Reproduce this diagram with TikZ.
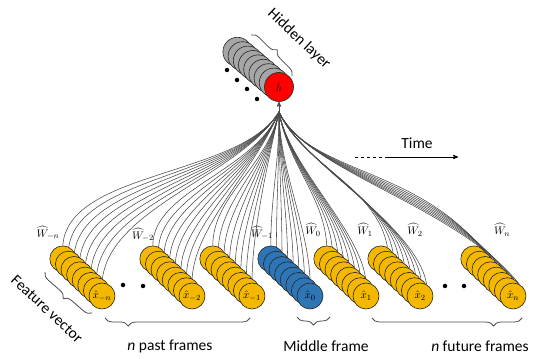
\documentclass[tikz,border=0pt]{standalone}
\usepackage{amsmath,amssymb}
\usepackage{fontspec}
\setmainfont{Carlito}
\usepackage{tikz}
\usetikzlibrary{backgrounds}
\usetikzlibrary{arrows, positioning, decorations.pathreplacing}
\definecolor{featyellow}{HTML}{F5B800}
\definecolor{midblue}{HTML}{2E75B6}
\definecolor{hidgray}{HTML}{A6A6A6}
\definecolor{wiregray}{HTML}{4A4A4A}
\tikzset{>=stealth',
    unit/.style={circle,draw=black!85,line width=0.6pt,minimum size=26pt,inner sep=0pt,
        font=\fontsize{11}{12}\selectfont},
    feat/.style={unit,fill=featyellow},
    middle/.style={unit,fill=midblue},
    hidden/.style={circle,draw=black!85,line width=0.6pt,fill=hidgray,minimum size=29pt,inner sep=0pt},
    outnode/.style={hidden,fill=red},
    dot/.style={circle,fill=black,minimum size=4.5pt,inner sep=0pt},
    wire/.style={draw=wiregray,line width=0.55pt},
    weight/.style={font=\fontsize{11}{12}\selectfont},
    caption/.style={font=\fontsize{15.5}{18}\selectfont},
    bracepath/.style={decorate,decoration={brace,amplitude=8pt},line width=0.8pt,draw=black!70}}

\begin{document}
\begin{tikzpicture}[x=1pt,y=1pt]
\useasboundingbox (0,0) rectangle (534,358);

% hidden layer
\foreach \k in {0,...,7}
    \node[hidden] (h\k) at ({279-(8-\k)*5.2},{271+(8-\k)*4.4}) {};
\node[outnode] (hout) at (279,271) {$\hat{h}$};
\node[dot] (hd1) at (227,288) {};
\node[dot] (hd2) at (237,278) {};
\node[dot] (hd3) at (247,269) {};
\node[dot] (hd4) at (257,259) {};
\coordinate (apex) at (279,246);
\draw[->,line width=0.8pt,wiregray] (apex) -- (hout.south);

% feature vectors
\foreach \s/\fx/\sty/\lab in {m/102/feat/{-n}, b/192/feat/{-2}, a/252/feat/{-1}, z/310/middle/0, p/366/feat/1, q/420/feat/2, n/513/feat/n} {
    \foreach \k in {0,...,6}
        \node[\sty] (\s\k) at ({\fx-(7-\k)*5.6},{62+(7-\k)*5.3}) {};
    \node[\sty] (\s7) at (\fx,62) {$\hat{x}_{\lab}$};
}
\node[dot] (fd1) at (123,73) {};
\node[dot] (fd2) at (143,72) {};
\node[dot] (fd3) at (445,72) {};
\node[dot] (fd4) at (464,72) {};

% weights
\begin{scope}[on background layer]
\foreach \s/\an/\ca/\cb in {m/north/{5,75}/{-40,-65}, b/north/{0,55}/{-25,-60}, a/north/{0,50}/{-12,-55},
        z/north/{0,50}/{0,-55}, p/north/{-3,50}/{10,-55}, q/60/{-10,60}/{24,-53}, n/60/{-65,80}/{28,-60}}
    \foreach \k in {0,...,7}
        \draw[wire] (\s\k.\an) .. controls +(\ca) and +(\cb) .. (apex);
\end{scope}
\node[weight] (wm) at (48,125) {$\widehat{W}_{-n}$};
\node[weight] (wb) at (143,123) {$\widehat{W}_{-2}$};
\node[weight] (wa) at (262,125) {$\widehat{W}_{-1}$};
\node[weight] (wz) at (313,128) {$\widehat{W}_{0}$};
\node[weight] (wp) at (365,128) {$\widehat{W}_{1}$};
\node[weight] (wq) at (415,128) {$\widehat{W}_{2}$};
\node[weight] (wn) at (502,128) {$\widehat{W}_{n}$};

% braces and captions
\draw[bracepath,decoration={aspect=0.5}] (251,323) -- (292,282);
\draw[bracepath,decoration={aspect=0.5}] (92,45) -- (45,86);
\draw[bracepath,decoration={aspect=0.84}] (250,40) -- (105,40);
\draw[bracepath,decoration={aspect=0.5}] (330,41) -- (297,41);
\draw[bracepath,decoration={aspect=0.19}] (522,40) -- (372,40);
\node[caption,rotate=-43] (hidlab) at (299,319) {Hidden layer};
\node[caption,rotate=-43] (featlab) at (47,49) {Feature vector};
\node[caption] (pastlab) at (170,12) {\textit{n} past frames};
\node[caption] (midlab) at (326,12) {Middle frame};
\node[caption] (futlab) at (480,12) {\textit{n} future frames};

% time
\node[caption] (timelab) at (417,215) {Time};
\coordinate (t0) at (355,201);
\coordinate (t1) at (388,201);
\coordinate (t2) at (458,201);
\draw[dashed,line width=0.8pt] (t0) -- (t1);
\draw[->,line width=0.8pt] (t1) -- (t2);
\end{tikzpicture}
\end{document}
